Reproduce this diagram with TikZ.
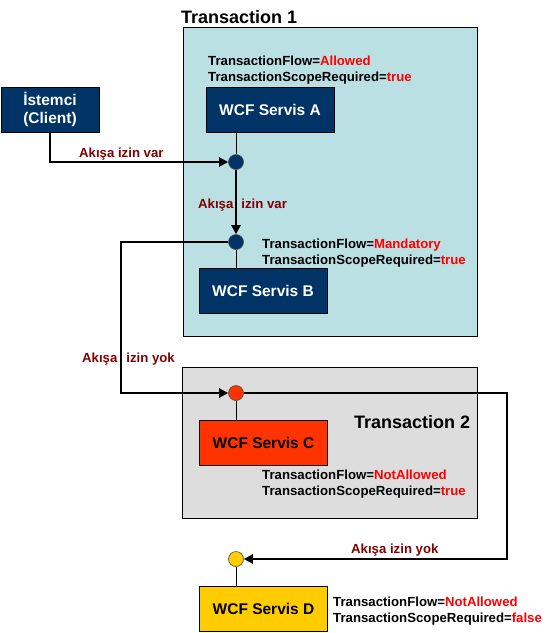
\documentclass[tikz,border=0pt]{standalone}
\usepackage{fontspec}
\setmainfont{Liberation Sans}
\usetikzlibrary{arrows.meta}
\definecolor{navy}{RGB}{0,51,102}
\definecolor{tealbg}{RGB}{186,224,227}
\definecolor{greybg}{RGB}{221,221,221}
\definecolor{redbox}{RGB}{255,51,0}
\definecolor{goldbox}{RGB}{255,204,0}
\definecolor{flowred}{RGB}{128,0,0}
\tikzset{
  frame/.style={draw=black, line width=0.8pt, anchor=north west, inner sep=0pt},
  svc/.style={draw=black, line width=0.8pt, minimum width=128pt, minimum height=45pt,
    font=\bfseries\fontsize{15.5}{18}\selectfont, align=center},
  dot/.style={circle, draw=black!70, line width=0.6pt, minimum size=15pt, inner sep=0pt},
  flow/.style={line width=2.6pt, line join=miter, -{Triangle[length=9pt,width=9pt]}},
  tie/.style={line width=0.7pt},
  props/.style={anchor=base west, inner sep=0pt, align=left,
    font=\bfseries\fontsize{13.2}{16}\selectfont},
  flowtxt/.style={anchor=base west, inner sep=0pt, text=flowred,
    font=\bfseries\fontsize{13.2}{16}\selectfont},
  ttl/.style={anchor=base west, inner sep=0pt, font=\bfseries\fontsize{18}{20}\selectfont}
}
\newcommand{\hot}[1]{\textcolor{red}{#1}}
\begin{document}
\begin{tikzpicture}[x=1pt, y=-1pt]
\useasboundingbox (0,0) rectangle (552,633);

% transaction frames
\node[frame, fill=tealbg, minimum width=294pt, minimum height=309pt] (t1) at (183,27) {};
\node[frame, fill=greybg, minimum width=295pt, minimum height=151pt] (t2) at (182,367) {};
\node[ttl] (t1title) at (181,23) {Transaction 1};
\node[ttl] (t2title) at (354,428) {Transaction 2};

% services
\node[svc, fill=navy, text=white, minimum width=98pt] (cl) at (50,109.5) {İstemci\\(Client)};
\node[svc, fill=navy, text=white] (A) at (270,109.5) {WCF Servis A};
\node[svc, fill=navy, text=white] (B) at (263,291) {WCF Servis B};
\node[svc, fill=redbox] (C) at (263.5,442.5) {WCF Servis C};
\node[svc, fill=goldbox] (D) at (263.5,608.5) {WCF Servis D};

% entry points
\node[dot, fill=navy] (dA) at (236,162) {};
\node[dot, fill=navy] (dB) at (236,242) {};
\node[dot, fill=redbox] (dC) at (236,393) {};
\node[dot, fill=goldbox] (dD) at (236,559) {};

\draw[tie] (dA |- A.south) -- (dA);
\draw[tie] (dB) -- (dB |- B.north);
\draw[tie] (dC) -- (dC |- C.north);
\draw[tie] (dD) -- (dD |- D.north);

% settings (anchored on the second line)
\node[props] (pA) at (208,81) {TransactionFlow=\hot{Allowed}\\TransactionScopeRequired=\hot{true}};
\node[props] (pB) at (262,264) {TransactionFlow=\hot{Mandatory}\\TransactionScopeRequired=\hot{true}};
\node[props] (pC) at (262,495) {TransactionFlow=\hot{NotAllowed}\\TransactionScopeRequired=\hot{true}};
\node[props] (pD) at (333,622) {TransactionFlow=\hot{NotAllowed}\\TransactionScopeRequired=\hot{false}};

% flow labels
\node[flowtxt] (f1) at (79,157) {Akışa izin var};
\node[flowtxt] (f2) at (198,208) {Akışa\hspace{8pt}izin var};
\node[flowtxt] (f3) at (82,362) {Akışa\hspace{9pt}izin yok};
\node[flowtxt] (f4) at (351,553) {Akışa izin yok};

% flows
\coordinate (k1) at (121,393);
\coordinate (k2) at (507,559);
\draw[flow] (cl.south) |- (dA);
\draw[flow] (dA) -- (dB);
\draw[flow] (dB) -| (k1) -- (dC);
\draw[flow] (dC) -| (k2) -- (dD);

\end{tikzpicture}
\end{document}
